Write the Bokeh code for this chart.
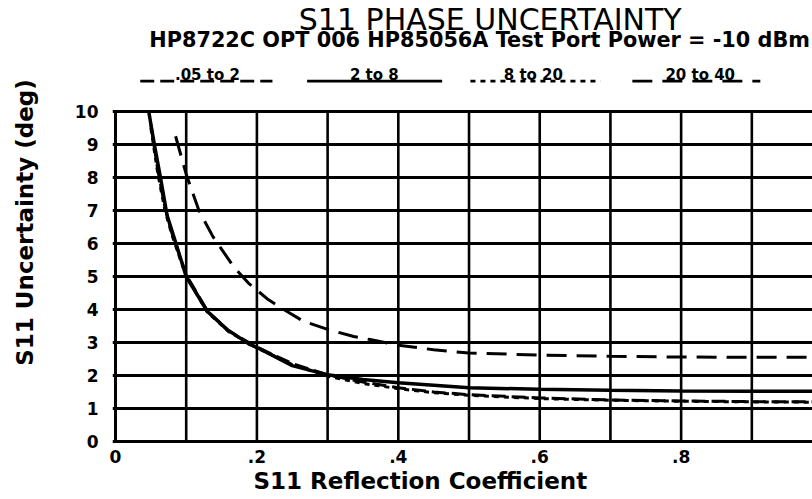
from bokeh.plotting import figure
from bokeh.models import Range1d, FixedTicker, Label, Title
from bokeh.embed import file_html
from bokeh.resources import INLINE

# ---- data ----
bands = [".05 to 2", "2 to 8", "8 to 20", "20 to 40"]

gamma_05_2 = [0.05, 0.06, 0.07, 0.08, 0.10, 0.13, 0.16, 0.20, 0.25, 0.30, 0.35, 0.40, 0.45, 0.50, 0.60, 0.70, 0.80, 0.90, 1.00]
unc_05_2 = [9.6, 8.2, 7.1, 6.3, 5.05, 3.95, 3.35, 2.86, 2.36, 2.02, 1.80, 1.63, 1.50, 1.42, 1.32, 1.26, 1.23, 1.21, 1.20]

gamma_2_8 = [0.047, 0.055, 0.064, 0.073, 0.082, 0.10, 0.13, 0.158, 0.19, 0.205, 0.25, 0.30, 0.35, 0.40, 0.50, 0.60, 0.70, 0.80, 0.90, 1.00]
unc_2_8 = [10.0, 9.0, 7.95, 6.85, 6.24, 5.0, 3.94, 3.39, 2.94, 2.80, 2.30, 2.02, 1.88, 1.78, 1.63, 1.58, 1.55, 1.53, 1.52, 1.52]

gamma_8_20 = [0.05, 0.06, 0.07, 0.08, 0.10, 0.13, 0.16, 0.20, 0.25, 0.30, 0.35, 0.40, 0.45, 0.50, 0.60, 0.70, 0.80, 0.90, 1.00]
unc_8_20 = [9.5, 8.1, 7.0, 6.25, 5.0, 3.92, 3.33, 2.84, 2.33, 1.98, 1.76, 1.60, 1.48, 1.40, 1.30, 1.25, 1.22, 1.20, 1.19]

gamma_20_40 = [0.085, 0.10, 0.118, 0.138, 0.167, 0.188, 0.216, 0.238, 0.266, 0.30, 0.337, 0.36, 0.40, 0.45, 0.50, 0.60, 0.70, 0.80, 0.90, 1.00]
unc_20_40 = [9.25, 8.1, 7.0, 6.2, 5.3, 4.8, 4.3, 4.0, 3.64, 3.4, 3.18, 3.09, 2.92, 2.78, 2.68, 2.62, 2.58, 2.56, 2.55, 2.55]

x_ticks = [0, 0.2, 0.4, 0.6, 0.8]
x_tick_labels = ["0", ".2", ".4", ".6", ".8"]
x_grid = [0.1, 0.2, 0.3, 0.4, 0.5, 0.6, 0.7, 0.8, 0.9]
y_ticks = [0, 1, 2, 3, 4, 5, 6, 7, 8, 9, 10]

FONT = "DejaVu Sans"

p = figure(width=812, height=499,
           x_range=Range1d(-0.00424, 0.9858), y_range=Range1d(-0.0909, 13.364),
           output_backend="svg", toolbar_location=None,
           min_border_left=112, min_border_right=0,
           min_border_top=0, min_border_bottom=55)
p.outline_line_color = None
p.background_fill_color = "white"
p.border_fill_color = "white"

# axes (frame lines drawn as segments / grid below)
p.xaxis.ticker = FixedTicker(ticks=x_ticks)
p.xaxis.major_label_overrides = {t: l for t, l in zip(x_ticks, x_tick_labels)}
p.yaxis.ticker = FixedTicker(ticks=y_ticks)
p.yaxis.bounds = (0, 10)
for ax in (p.xaxis[0], p.yaxis[0]):
    ax.axis_line_color = None
    ax.major_tick_out = 0
    ax.major_tick_in = 0
    ax.minor_tick_out = 0
    ax.minor_tick_in = 0
    ax.major_label_text_font = FONT
    ax.major_label_text_font_style = "bold"
    ax.major_label_text_color = "black"
    ax.axis_label_text_font = FONT
    ax.axis_label_text_font_style = "bold"
    ax.axis_label_text_color = "black"
p.yaxis.major_label_text_font_size = "17px"
p.yaxis.major_label_standoff = 14
p.xaxis.major_label_text_font_size = "17px"
p.xaxis.major_label_standoff = 5
p.yaxis.axis_label = "S11 Uncertainty (deg)"
p.yaxis.axis_label_text_font_size = "23px"
p.yaxis.axis_label_standoff = 34

p.add_layout(Title(text="S11 Reflection Coefficient", align="left", offset=141,
                   text_font=FONT, text_font_style="bold", text_font_size="23px",
                   text_color="black", standoff=0), "below")

# grid: horizontal lines via grid, vertical lines as segments limited to 0..10
p.xgrid.visible = False
p.ygrid.ticker = FixedTicker(ticks=y_ticks)
p.ygrid.grid_line_color = "black"
p.ygrid.grid_line_width = 2.8
p.ygrid.grid_line_alpha = 1.0
p.segment(x0=x_grid, y0=[0] * len(x_grid), x1=x_grid, y1=[10] * len(x_grid),
          line_color="black", line_width=2.6)
p.segment(x0=[0], y0=[0], x1=[0], y1=[10], line_color="black", line_width=3)

# curves
p.line(gamma_05_2, unc_05_2, line_color="black", line_width=3, line_dash="14 6")
p.line(gamma_8_20, unc_8_20, line_color="black", line_width=3, line_dash="5 5")
p.line(gamma_2_8, unc_2_8, line_color="black", line_width=3.5)
p.line(gamma_20_40, unc_20_40, line_color="black", line_width=3, line_dash="20 10")

# legend-style band labels with line samples underneath
band_x = [0.130, 0.366, 0.591, 0.827]
under_spans = [(0.035, 0.222), (0.271, 0.462), (0.502, 0.686), (0.731, 0.912)]
dashes = ["14 6", "solid", "5 5", "20 10"]
for lab, bx, (u0, u1), d in zip(bands, band_x, under_spans, dashes):
    p.add_layout(Label(x=bx, y=11.12, text=lab, text_font=FONT, text_font_style="bold",
                       text_font_size="15px", text_align="center", text_baseline="middle",
                       text_color="black"))
    p.line([u0, u1], [10.92, 10.92], line_color="black", line_width=2.8, line_dash=d)

# titles
p.add_layout(Label(x=0.530, y=12.80, text="S11 PHASE UNCERTAINTY", text_font=FONT,
                   text_font_size="30px", text_align="center", text_baseline="middle",
                   text_color="black"))
p.add_layout(Label(x=0.515, y=12.17, text="HP8722C OPT 006 HP85056A Test Port Power = -10 dBm",
                   text_font=FONT, text_font_style="bold", text_font_size="20.8px",
                   text_align="center", text_baseline="middle", text_color="black"))

open("out.html", "w").write(file_html(p, INLINE))
